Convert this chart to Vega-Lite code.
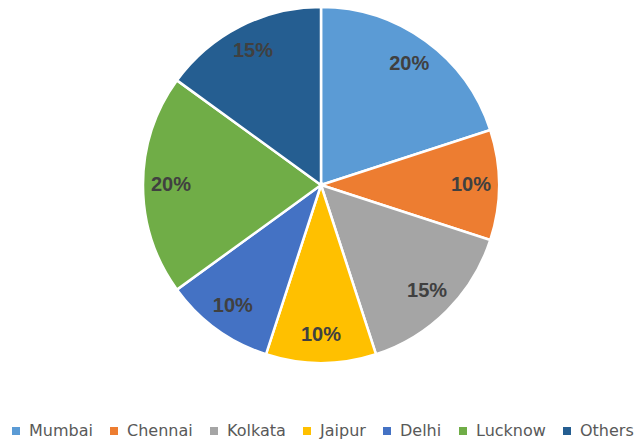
{
  "$schema": "https://vega.github.io/schema/vega-lite/v6.json",
  "width": 642,
  "height": 370,
  "padding": 0,
  "autosize": {"type": "pad"},
  "background": "white",
  "data": {"values": [
    {"city": "Mumbai", "share": 20, "label": "20%", "order": 1},
    {"city": "Chennai", "share": 10, "label": "10%", "order": 2},
    {"city": "Kolkata", "share": 15, "label": "15%", "order": 3},
    {"city": "Jaipur", "share": 10, "label": "10%", "order": 4},
    {"city": "Delhi", "share": 10, "label": "10%", "order": 5},
    {"city": "Lucknow", "share": 20, "label": "20%", "order": 6},
    {"city": "Others", "share": 15, "label": "15%", "order": 7}
  ]},
  "encoding": {
    "theta": {"field": "share", "type": "quantitative", "stack": true},
    "order": {"field": "order", "type": "quantitative"},
    "color": {
      "field": "city", "type": "nominal",
      "sort": ["Mumbai", "Chennai", "Kolkata", "Jaipur", "Delhi", "Lucknow", "Others"],
      "scale": {
        "domain": ["Mumbai", "Chennai", "Kolkata", "Jaipur", "Delhi", "Lucknow", "Others"],
        "range": ["#5B9BD5", "#ED7D31", "#A5A5A5", "#FFC000", "#4472C4", "#70AD47", "#255E91"]
      },
      "legend": {
        "title": null,
        "orient": "bottom",
        "direction": "horizontal",
        "offset": 53,
        "symbolType": "square",
        "symbolSize": 64,
        "symbolStrokeWidth": 0,
        "labelFont": "DejaVu Sans",
        "labelFontSize": 16,
        "labelColor": "#595959",
        "columnPadding": 13,
        "symbolOffset": 0,
        "labelOffset": 5,
        "padding": 0
      }
    }
  },
  "layer": [
    {"mark": {"type": "arc", "outerRadius": 178, "stroke": "white", "strokeWidth": 2.5}},
    {"mark": {"type": "text", "radius": 150, "font": "Liberation Sans", "fontSize": 20, "fontWeight": "bold", "fill": "#404040"},
     "encoding": {"text": {"field": "label"}, "color": {"value": "#404040"}}}
  ],
  "config": {
    "view": {"stroke": null},
    "legend": {"layout": {"bottom": {"anchor": "middle"}}}
  }
}
